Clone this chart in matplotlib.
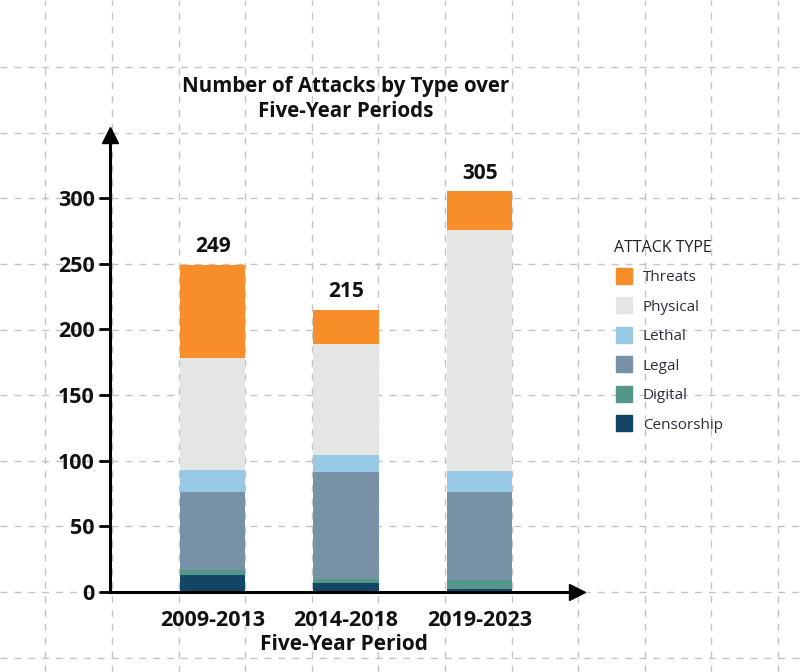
import numpy as np
import matplotlib.pyplot as plt
from matplotlib.lines import Line2D

periods = ['2009-2013', '2014-2018', '2019-2023']
attack_types = ['Censorship', 'Digital', 'Legal', 'Lethal', 'Physical', 'Threats']
censorship = [13, 7, 2]
digital = [4, 3, 7]
legal = [59, 81, 67]
lethal = [17, 13, 16]
physical = [85, 85, 184]
threats = [71, 26, 29]
totals = [249, 215, 305]

colors = {
    'Censorship': '#134565',
    'Digital': '#54978A',
    'Legal': '#7892A5',
    'Lethal': '#97C9E4',
    'Physical': '#E3E6E2',
    'Threats': '#F88E2A',
}

series = [censorship, digital, legal, lethal, physical, threats]

plt.rcParams['font.family'] = ['Open Sans', 'DejaVu Sans']

W, H = 800, 672
fig = plt.figure(figsize=(8, 6.72), dpi=100)

# background dashed grid over the whole picture (pixel coords)
bg = fig.add_axes([0, 0, 1, 1], zorder=0)
bg.set_xlim(0, W)
bg.set_ylim(H, 0)
bg.axis('off')
for k in range(-1, 11):
    xg = 112 + 66.6 * k
    bg.axvline(xg, color='#c4c4c4', lw=1, ls=(0, (5, 5)))
for k in range(-1, 9):
    yg = 592 - 65.6 * k
    bg.axhline(yg, color='#c4c4c4', lw=1, ls=(0, (5, 5)))

# main axes
left, right = 110 / W, 577 / W
bottom, top = (H - 592) / H, (H - 135) / H
ax = fig.add_axes([left, bottom, right - left, top - bottom], zorder=1)
ax.set_facecolor('none')

x = np.arange(len(periods))
base = np.zeros(len(periods))
for name, vals in zip(attack_types, series):
    ax.bar(x, vals, bottom=base, width=0.49, color=colors[name], zorder=2)
    base += np.array(vals)

for xi, t in zip(x, totals):
    ax.text(xi, t + 6, str(t), ha='center', va='bottom', fontsize=15,
            fontweight='bold', color='#111111')

ax.set_xlim(-0.77, 2.73)
ax.set_ylim(0, 348)
ax.set_yticks([0, 50, 100, 150, 200, 250, 300])
ax.set_xticks(x)
ax.set_xticklabels(periods)

for s in ['top', 'right']:
    ax.spines[s].set_visible(False)
for s in ['left', 'bottom']:
    ax.spines[s].set_linewidth(2.2)
    ax.spines[s].set_color('black')

ax.tick_params(axis='y', length=8, width=2, labelsize=15.5, pad=3)
ax.tick_params(axis='x', length=0, labelsize=15.5, pad=13)
for lab in ax.get_xticklabels() + ax.get_yticklabels():
    lab.set_fontweight('bold')
    lab.set_color('#111111')

# arrow heads
ax.plot(1, 0, '>', color='black', markersize=11, transform=ax.transAxes, clip_on=False)
ax.plot(0, 1, '^', color='black', markersize=11, transform=ax.transAxes, clip_on=False)

ax.set_xlabel('Five-Year Period', fontsize=15, fontweight='bold', labelpad=2,
              color='#111111')

fig.text(346 / W, 1 - 99 / H, 'Number of Attacks by Type over\nFive-Year Periods',
         ha='center', va='center', fontsize=14.8, fontweight='bold',
         color='#111111', linespacing=1.3)

handles = [Line2D([0], [0], marker='s', linestyle='', markersize=11,
                  markerfacecolor=colors[n], markeredgecolor=colors[n])
           for n in reversed(attack_types)]
leg = fig.legend(handles, list(reversed(attack_types)), loc='upper left',
                 bbox_to_anchor=(600 / W, 1 - 226 / H), frameon=False,
                 title='ATTACK TYPE', fontsize=11, title_fontsize=11.5,
                 labelspacing=0.95, handletextpad=0.5, handlelength=1.4,
                 alignment='left')
for t in leg.get_texts():
    t.set_color('#2a2f3a')
leg.get_title().set_color('#222222')

fig.savefig('out.png', dpi=100)
